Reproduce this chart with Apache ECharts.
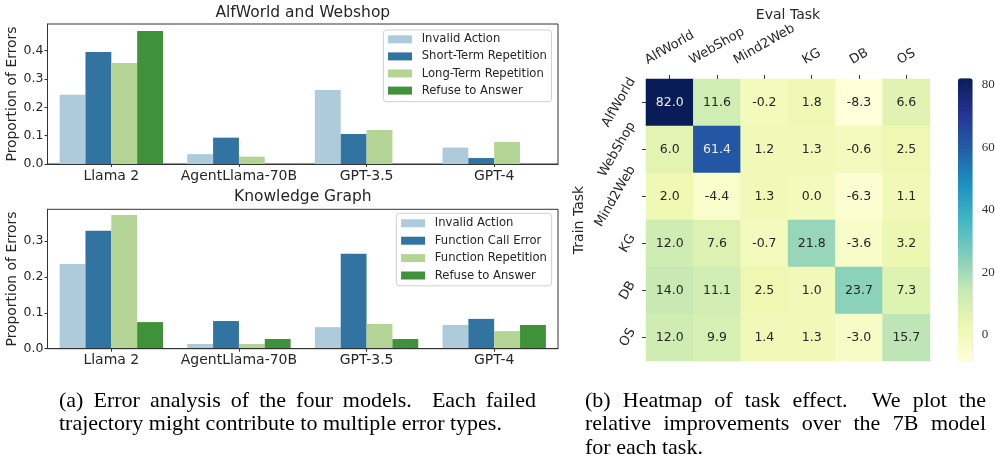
<!DOCTYPE html>
<html>
<head>
<meta charset="utf-8">
<script src="https://cdn.jsdelivr.net/npm/echarts@6/dist/echarts.min.js"></script>
<style>
html, body { margin: 0; padding: 0; background: #fff; }
#main { width: 995px; height: 461px; }
</style>
</head>
<body>
<div id="main"></div>
<script>
// ---- data: error analysis bars ----
var models = ['Llama 2', 'AgentLlama-70B', 'GPT-3.5', 'GPT-4'];

var awInvalid  = [0.244, 0.035, 0.261, 0.058];
var awShortRep = [0.395, 0.093, 0.106, 0.021];
var awLongRep  = [0.356, 0.026, 0.120, 0.078];
var awRefuse   = [0.469, 0, 0, 0];

var kgInvalid  = [0.236, 0.013, 0.060, 0.066];
var kgCallErr  = [0.328, 0.077, 0.264, 0.083];
var kgFuncRep  = [0.372, 0.013, 0.069, 0.049];
var kgRefuse   = [0.074, 0.027, 0.027, 0.066];

var awTicks = [0, 0.1, 0.2, 0.3, 0.4];
var kgTicks = [0, 0.1, 0.2, 0.3];

// ---- data: task effect heatmap (rows = train task, cols = eval task) ----
var trainTasks = ['AlfWorld', 'WebShop', 'Mind2Web', 'KG', 'DB', 'OS'];
var evalTasks  = ['AlfWorld', 'WebShop', 'Mind2Web', 'KG', 'DB', 'OS'];
var fromAlfWorld = [82.0, 11.6, -0.2, 1.8, -8.3, 6.6];
var fromWebShop  = [6.0, 61.4, 1.2, 1.3, -0.6, 2.5];
var fromMind2Web = [2.0, -4.4, 1.3, 0.0, -6.3, 1.1];
var fromKG       = [12.0, 7.6, -0.7, 21.8, -3.6, 3.2];
var fromDB       = [14.0, 11.1, 2.5, 1.0, 23.7, 7.3];
var fromOS       = [12.0, 9.9, 1.4, 1.3, -3.0, 15.7];
var heatRows = [fromAlfWorld, fromWebShop, fromMind2Web, fromKG, fromDB, fromOS];
var cbarTicks = [0, 20, 40, 60, 80];

var captionA = ['(a) Error analysis of the four models.  Each failed',
                'trajectory might contribute to multiple error types.'];
var captionB = ['(b) Heatmap of task effect.  We plot the',
                'relative improvements over the 7B model',
                'for each task.'];

var palette = ['#aecbdb', '#3274a1', '#b3d495', '#3f913a'];
var ylgnbu = ['#ffffd9', '#edf8b1', '#c7e9b4', '#7fcdbb', '#41b6c4', '#1d91c0', '#225ea8', '#253494', '#081d58'];

var ink = '#262626';
var ctx = document.createElement('canvas').getContext('2d');
function textWidth(s, font) { ctx.font = font; return ctx.measureText(s).width; }

// rotated tick labels laid out like matplotlib: the rotated bbox is
// centred on the tick (columns) or right-aligned and centred (rows).
// zrender only honours bottom padding with verticalAlign 'bottom'.
var LABEL_FONT = 13;
var labelFont = LABEL_FONT + 'px "DejaVu Sans"';
function colLabel(name) {
    var t = Math.PI / 6, L = textWidth(name, labelFont);
    var D = (L * Math.sin(t) + LABEL_FONT * Math.cos(t)) / 2;
    var up = Math.max(0, D * Math.cos(t) - LABEL_FONT / 2);
    return { value: name, textStyle: { align: 'center', verticalAlign: 'bottom',
             padding: [0, 0, up, 2 * D * Math.sin(t)] } };
}
function rowLabel(name) {
    var t = Math.PI / 3, L = textWidth(name, labelFont);
    var D = (L * Math.cos(t) + LABEL_FONT * Math.sin(t)) / 2;
    var up = Math.max(0, D * Math.sin(t) - LABEL_FONT / 2);
    return { value: name, textStyle: { align: 'center', verticalAlign: 'bottom',
             padding: [0, 2 * D * Math.cos(t), up, 0] } };
}

// justified caption lines
var capFont = 22;
var capFontStr = capFont + 'px "Liberation Serif"';
var capRich = {};
function justify(line, target, key) {
    var words = line.split(' ');
    var w = 0;
    words.forEach(function (s) { w += textWidth(s, capFontStr); });
    var gap = (target - w) / (words.length - 1);
    capRich[key] = { width: gap, fontFamily: 'Liberation Serif', fontSize: capFont };
    return words.join('{' + key + '| }');
}
var capTextA = justify(captionA[0], 477, 'ga') + '\n' + captionA[1];
var capTextB = justify(captionB[0], 401, 'gb1') + '\n' + justify(captionB[1], 401, 'gb2') + '\n' + captionB[2];

function barSeries(name, data, color, idx) {
    return {
        type: 'bar', name: name, data: data, xAxisIndex: idx, yAxisIndex: idx,
        itemStyle: { color: color }, barGap: '0%', barCategoryGap: '19%', silent: true
    };
}

function barX(idx) {
    return {
        type: 'category', gridIndex: idx, data: models, z: 3,
        axisLine: { show: true, lineStyle: { color: '#333', width: 1 } },
        axisTick: { show: true, alignWithLabel: true, length: 3, lineStyle: { color: '#333' } },
        axisLabel: { interval: 0, fontSize: 14, color: ink, margin: 5 },
        splitLine: { show: false }
    };
}
function barY(idx, max, ticks) {
    return {
        type: 'value', gridIndex: idx, min: 0, max: max, interval: 0.1, z: 3,
        axisLine: { show: true, lineStyle: { color: '#333', width: 1 } },
        axisTick: { show: true, length: 3, customValues: ticks, lineStyle: { color: '#333' } },
        axisLabel: { fontSize: 12.5, color: ink, margin: 4, customValues: ticks,
                     formatter: function (v) { return v.toFixed(1); } },
        splitLine: { show: false },
        name: 'Proportion of Errors', nameLocation: 'middle', nameGap: 28, nameMoveOverlap: false,
        nameTextStyle: { fontSize: 13.9, color: ink }
    };
}

var heatData = [];
heatRows.forEach(function (row, r) {
    row.forEach(function (v, c) {
        heatData.push({ value: [c, r, v], label: { color: v > 50 ? '#eeeeee' : ink } });
    });
});

function legendBox(names, top, left, gap, pad) {
    return {
        data: names, orient: 'vertical', left: left, top: top, padding: pad,
        itemWidth: 24, itemHeight: 8, itemGap: gap, icon: 'rect', selectedMode: false,
        backgroundColor: 'rgba(255,255,255,0.8)', borderColor: '#d0d0d0', borderWidth: 1, borderRadius: 3,
        textStyle: { fontSize: 11.6, color: ink, lineHeight: 13, padding: [0, 0, 0, 4.7] }
    };
}

var chart = echarts.init(document.getElementById('main'), null, { renderer: 'canvas' });
chart.setOption({
    animation: false,
    textStyle: { fontFamily: 'DejaVu Sans' },
    title: [
        { text: 'AlfWorld and Webshop', left: 302.8, top: 4, textAlign: 'center', padding: 0,
          textStyle: { fontSize: 15.5, fontWeight: 'normal', color: ink, lineHeight: 18 } },
        { text: 'Knowledge Graph', left: 302.8, top: 187.7, textAlign: 'center', padding: 0,
          textStyle: { fontSize: 15.5, fontWeight: 'normal', color: ink, lineHeight: 18 } },
        { text: capTextA, left: 59, top: 389.3, padding: 0,
          textStyle: { fontFamily: 'Liberation Serif', fontSize: capFont, fontWeight: 'normal', color: '#000', lineHeight: 23.5, rich: capRich } },
        { text: capTextB, left: 585, top: 389.3, padding: 0,
          textStyle: { fontFamily: 'Liberation Serif', fontSize: capFont, fontWeight: 'normal', color: '#000', lineHeight: 23.5, rich: capRich } }
    ],
    legend: [
        legendBox(['Invalid Action', 'Short-Term Repetition', 'Long-Term Repetition', 'Refuse to Answer'], 30, 383.3, 4.1, [2.8, 4.7, 4.5, 4.7]),
        legendBox(['Invalid Action', 'Function Call Error', 'Function Repetition', 'Refuse to Answer'], 213.3, 396.4, 4.4, [3.5, 4.7, 3.8, 4.7])
    ],
    grid: [
        { left: 47.5, top: 24, width: 510.5, height: 140, show: true, borderColor: '#333', borderWidth: 1, outerBoundsMode: 'none' },
        { left: 47.5, top: 209.3, width: 510.5, height: 139.4, show: true, borderColor: '#333', borderWidth: 1, outerBoundsMode: 'none' },
        { left: 646, top: 79, width: 284, height: 282, outerBoundsMode: 'none' },
        { left: 958, top: 78.3, width: 14.7, height: 282.7, outerBoundsMode: 'none' }
    ],
    xAxis: [
        barX(0),
        barX(1),
        {
            // this ECharts build turns top-axis labels clockwise for a positive angle
            type: 'category', gridIndex: 2, position: 'top', data: evalTasks.map(colLabel),
            axisLine: { show: false },
            axisTick: { show: true, alignWithLabel: true, length: 4, lineStyle: { color: '#333' } },
            axisLabel: { interval: 0, rotate: -30, fontSize: LABEL_FONT, color: ink, margin: 12 },
            splitLine: { show: false },
            name: 'Eval Task', nameLocation: 'middle', nameGap: 56.3, nameMoveOverlap: false,
            nameTextStyle: { fontSize: 14, color: ink }
        },
        { type: 'value', gridIndex: 3, show: false, min: 0, max: 1 }
    ],
    yAxis: [
        barY(0, 0.494, awTicks),
        barY(1, 0.388, kgTicks),
        {
            type: 'category', gridIndex: 2, inverse: true, data: trainTasks.map(rowLabel),
            axisLine: { show: false },
            axisTick: { show: true, alignWithLabel: true, length: 4, lineStyle: { color: '#333' } },
            axisLabel: { interval: 0, rotate: 60, fontSize: LABEL_FONT, color: ink, margin: 8 },
            splitLine: { show: false },
            name: 'Train Task', nameLocation: 'middle', nameGap: 60, nameMoveOverlap: false,
            nameTextStyle: { fontSize: 14, color: ink }
        },
        {
            type: 'value', gridIndex: 3, position: 'right', min: -8.3, max: 82.0,
            axisLine: { show: false },
            axisTick: { show: true, length: 4, customValues: cbarTicks, lineStyle: { color: '#444' } },
            axisLabel: { customValues: cbarTicks, margin: 9, fontFamily: 'Liberation Serif', fontSize: 13, color: '#333' },
            splitLine: { show: false }
        }
    ],
    visualMap: {
        type: 'continuous', seriesIndex: 8, min: -8.3, max: 82.0, calculable: false,
        orient: 'vertical', left: 958, top: 78.3, itemWidth: 14.7, itemHeight: 282.7, padding: 0,
        inRange: { color: ylgnbu }, hoverLink: false
    },
    series: [
        barSeries('Invalid Action', awInvalid, palette[0], 0),
        barSeries('Short-Term Repetition', awShortRep, palette[1], 0),
        barSeries('Long-Term Repetition', awLongRep, palette[2], 0),
        barSeries('Refuse to Answer', awRefuse, palette[3], 0),
        barSeries('Invalid Action', kgInvalid, palette[0], 1),
        barSeries('Function Call Error', kgCallErr, palette[1], 1),
        barSeries('Function Repetition', kgFuncRep, palette[2], 1),
        barSeries('Refuse to Answer', kgRefuse, palette[3], 1),
        {
            type: 'heatmap', name: 'Task effect', xAxisIndex: 2, yAxisIndex: 2, data: heatData, silent: true,
            label: { show: true, fontSize: 12.5, fontFamily: 'DejaVu Sans',
                     formatter: function (p) { return p.value[2].toFixed(1); } },
            emphasis: { disabled: true }
        }
    ]
});
</script>
</body>
</html>
